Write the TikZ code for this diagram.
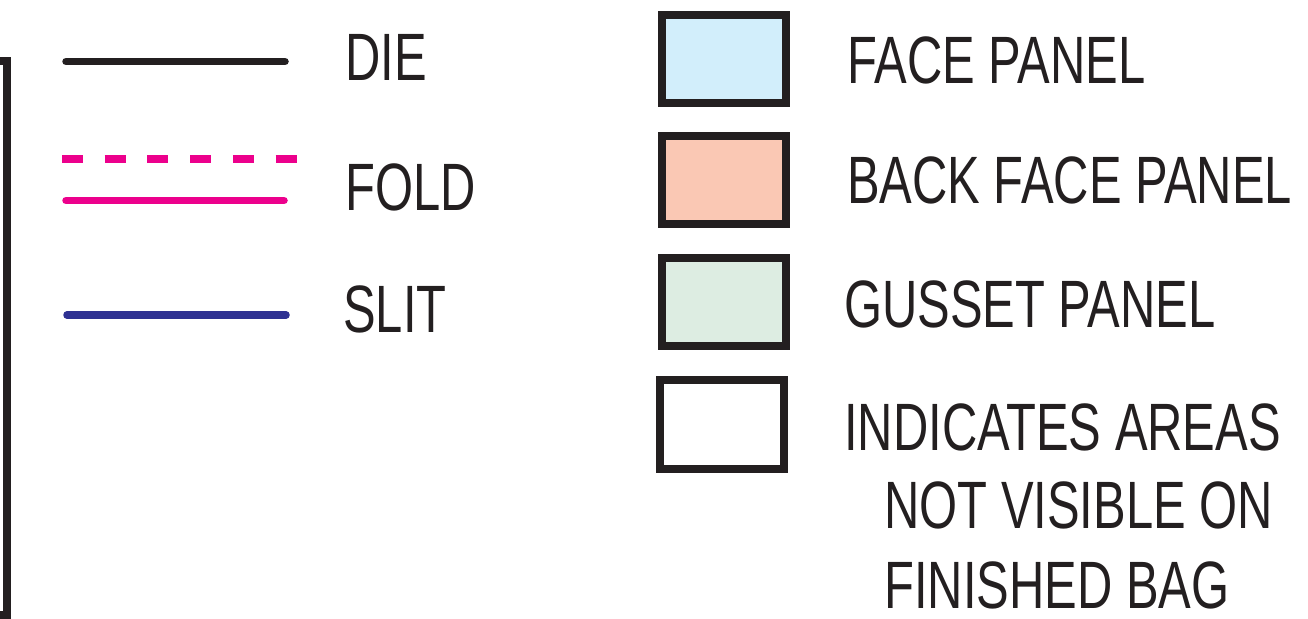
\documentclass[tikz,border=0pt]{standalone}
\usepackage{fontspec}
\setmainfont{Liberation Sans}[FakeStretch=0.73]
\definecolor{inkblack}{HTML}{231F20}
\definecolor{foldpink}{HTML}{EC008C}
\definecolor{slitblue}{HTML}{2E3192}
\definecolor{facefill}{HTML}{D2EEFB}
\definecolor{backfill}{HTML}{FAC8B4}
\definecolor{gussetfill}{HTML}{DDEDE2}
\tikzset{
  px/.style={x=1pt,y=-1pt},
  label text/.style={anchor=base west,inner sep=0pt,text=inkblack,font=\fontsize{67}{67}\selectfont},
  swatch/.style={draw=inkblack,line width=8pt,miter limit=10},
  legendline/.style={line width=7.5pt,line cap=round},
}
\begin{document}
\begin{tikzpicture}[px]
\useasboundingbox (0,0) rectangle (1308,618);
% bracket
\draw[inkblack,line width=8pt] (0,61) -- (7,61) -- (7,615) -- (0,615);
% legend lines
\draw[legendline,inkblack] (66,61.5) -- (285,61.5);
\draw[foldpink,line width=8pt,dash pattern=on 21pt off 21.7pt] (62,159) -- (297,159);
\draw[legendline,foldpink] (66,200.5) -- (284,200.5);
\draw[legendline,slitblue] (67,315) -- (286,315);
% left labels
\node[label text] (die) at (345,80) {DIE};
\node[label text] (fold) at (345,210) {FOLD};
\node[label text] (slit) at (343,332) {SLIT};
% swatches
\draw[swatch,fill=facefill] (662,15) rectangle (786,103);
\draw[swatch,fill=backfill] (662,136) rectangle (786,224);
\draw[swatch,fill=gussetfill] (662,258) rectangle (786,346);
\draw[swatch,fill=white] (660,380) rectangle (784,469);
% right labels
\node[label text] (face) at (847,83) {FACE PANEL};
\node[label text] (back) at (847,203) {BACK FACE PANEL};
\node[label text] (gusset) at (844,327) {GUSSET PANEL};
\node[label text] (ind1) at (844,450) {INDICATES AREAS};
\node[label text] (ind2) at (884,528) {NOT VISIBLE ON};
\node[label text] (ind3) at (884,608) {FINISHED BAG};
\end{tikzpicture}
\end{document}
